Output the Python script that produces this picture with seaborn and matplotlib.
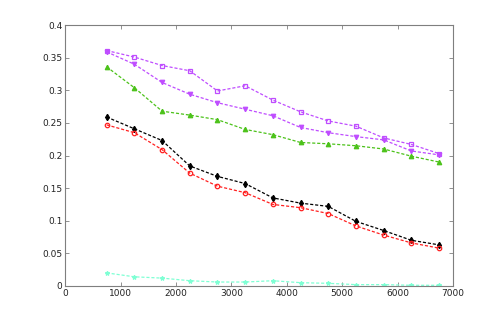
import matplotlib
matplotlib.use("Agg")
import matplotlib.pyplot as plt
import seaborn as sns
import pandas as pd

x = [750, 1250, 1750, 2250, 2750, 3250, 3750, 4250, 4750, 5250, 5750, 6250, 6750]
magenta_sq = [0.361, 0.351, 0.338, 0.330, 0.299, 0.307, 0.285, 0.267, 0.253, 0.245, 0.227, 0.217, 0.203]
purple_tri = [0.359, 0.340, 0.312, 0.294, 0.281, 0.271, 0.261, 0.243, 0.235, 0.229, 0.224, 0.207, 0.201]
green_tri = [0.336, 0.304, 0.268, 0.262, 0.255, 0.240, 0.232, 0.220, 0.218, 0.215, 0.210, 0.199, 0.190]
black_dia = [0.259, 0.241, 0.223, 0.184, 0.168, 0.157, 0.135, 0.127, 0.122, 0.099, 0.085, 0.070, 0.063]
red_circ = [0.247, 0.235, 0.209, 0.173, 0.153, 0.143, 0.125, 0.120, 0.111, 0.092, 0.078, 0.066, 0.058]
cyan_star = [0.020, 0.014, 0.012, 0.008, 0.006, 0.006, 0.008, 0.005, 0.004, 0.002, 0.002, 0.001, 0.001]

x_ticks = [0, 1000, 2000, 3000, 4000, 5000, 6000, 7000]
y_ticks = [0, 0.05, 0.1, 0.15, 0.2, 0.25, 0.3, 0.35, 0.4]
y_labels = ["0", "0.05", "0.1", "0.15", "0.2", "0.25", "0.3", "0.35", "0.4"]

sns.set_style("white")
plt.rcParams['font.family'] = ['DejaVu Sans']

fig = plt.figure(figsize=(5.01, 3.22), dpi=100)
ax = fig.add_axes([0.13, 0.112, 0.774, 0.81])

series = [
    (magenta_sq, "#bf4dff", "s"),
    (purple_tri, "#bf4dff", "v"),
    (green_tri, "#4cc21a", "^"),
    (black_dia, "#000000", "d"),
    (red_circ, "#ff2020", "o"),
    (cyan_star, "#7fffd4", "*"),
]
for vals, col, mk in series:
    df = pd.DataFrame({"x": x, "y": vals})
    sns.lineplot(data=df, x="x", y="y", ax=ax, color=col, marker=mk,
                 linestyle=(0, (2.5, 1.5)), linewidth=0.9, markersize=3.2,
                 markeredgecolor=col, markerfacecolor="none" if mk in ("o", "s") else col,
                 markeredgewidth=0.9)

ax.set_xlim(0, 7000)
ax.set_ylim(0, 0.4)
ax.set_xticks(x_ticks)
ax.set_yticks(y_ticks)
ax.set_yticklabels(y_labels)
ax.set_xlabel("")
ax.set_ylabel("")
for s in ax.spines.values():
    s.set_color("#7f7f7f")
    s.set_linewidth(0.8)
    s.set_visible(True)
ax.tick_params(direction="in", length=3, width=0.6, color="#7f7f7f",
               labelsize=6.5, labelcolor="#222222", top=True, right=True,
               bottom=True, left=True, pad=2)
fig.savefig("out.png", dpi=100)
